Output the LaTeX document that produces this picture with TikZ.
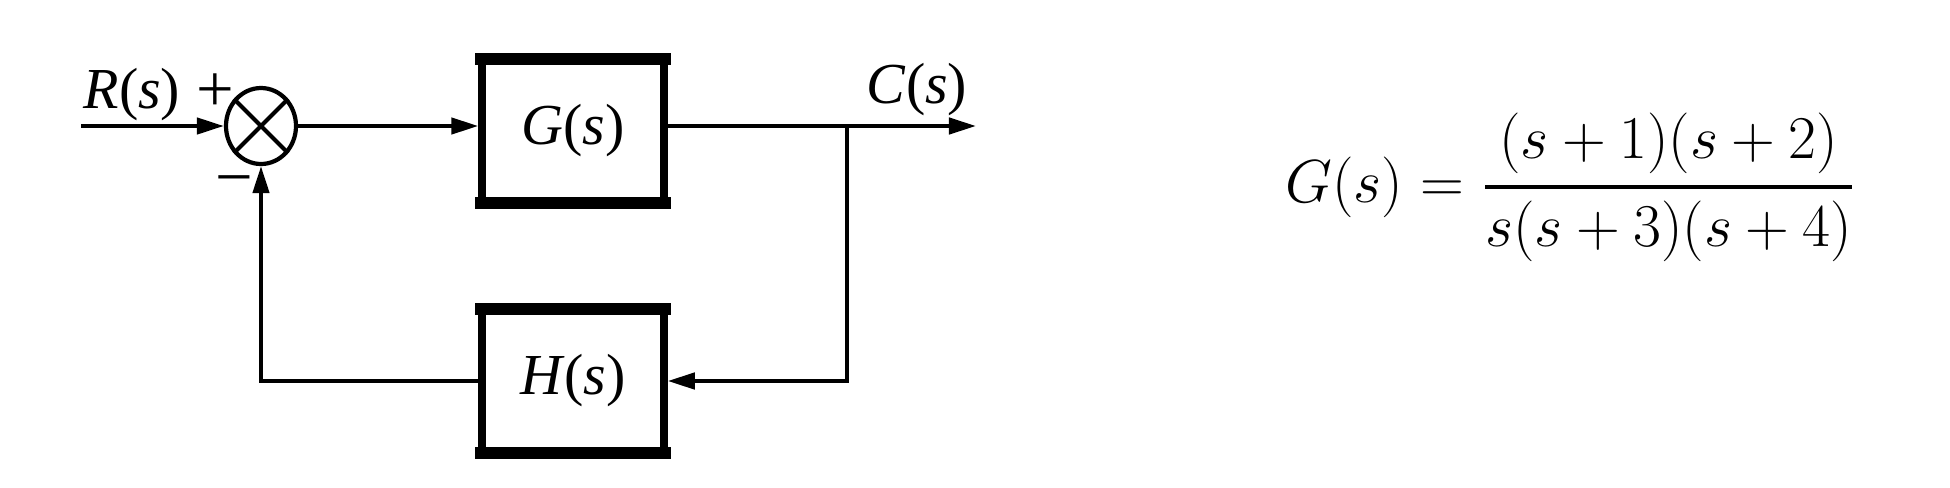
\documentclass[tikz,border=0pt]{standalone}
\usepackage{amsmath}
\usepackage[no-math]{fontspec}
\setmainfont{Liberation Serif}
\usetikzlibrary{arrows.meta,shapes.geometric,calc}
\begin{document}
\begin{tikzpicture}[x=0.1mm,y=-0.1mm,
  conn/.style={line width=1.15pt},
  arr/.style={conn,-{Triangle[length=7.7pt,width=4.6pt]}},
  blockbox/.style={draw,line width=2.1pt,minimum width=18.2mm,minimum height=14.2mm,inner sep=0pt,font=\fontsize{16.5}{19}\selectfont},
  sumnode/.style={draw,ellipse,line width=1.2pt,minimum width=7mm,minimum height=7.6mm,inner sep=0pt},
  lbl/.style={font=\fontsize{16.5}{19}\selectfont,inner sep=0pt},
  bar/.style={fill=black}
]
\useasboundingbox (0,0) rectangle (1950,487);
\node[sumnode] (sum) at (261,126) {};
\draw[conn] (sum.45) -- (sum.225) (sum.135) -- (sum.315);
\node[blockbox] (G) at (573,131) {\textit{G}(\textit{s})};
\node[blockbox] (H) at (573,381) {\textit{H}(\textit{s})};
\fill[bar] ($(G.north west)+(-3.7,-3.7)$) rectangle ($(G.north east)+(3.7,9)$);
\fill[bar] ($(G.south west)+(-3.7,3.7)$) rectangle ($(G.south east)+(3.7,-9)$);
\fill[bar] ($(H.north west)+(-3.7,-3.7)$) rectangle ($(H.north east)+(3.7,9)$);
\fill[bar] ($(H.south west)+(-3.7,3.7)$) rectangle ($(H.south east)+(3.7,-9)$);
\coordinate (in) at (81,126);
\coordinate (out) at (976,126);
\coordinate (br) at (847,126);
\draw[arr] (in) -- (sum.west);
\draw[arr] (sum.east) -- (sum.east -| G.west);
\draw[arr] (sum.east -| G.east) -- (out);
\draw[arr] (br) |- (H.east);
\draw[arr] (H.west) -| (sum.south);
\node[lbl] (R) at (132,95) {\textit{R}(\textit{s})};
\node[lbl] (plus) at (215,93) {\fontsize{19}{20}\selectfont +};
\node[lbl] (minus) at (234,188) {\fontsize{19}{20}\selectfont −};
\node[lbl] (C) at (917,90) {\textit{C}(\textit{s})};
\node[inner sep=0pt] (eq) at (1571,187) {\fontsize{17.5}{21}\selectfont $\displaystyle G(s)=\genfrac{}{}{1.1pt}{0}{(s+1)(s+2)}{s(s+3)(s+4)}$};
\end{tikzpicture}
\end{document}
